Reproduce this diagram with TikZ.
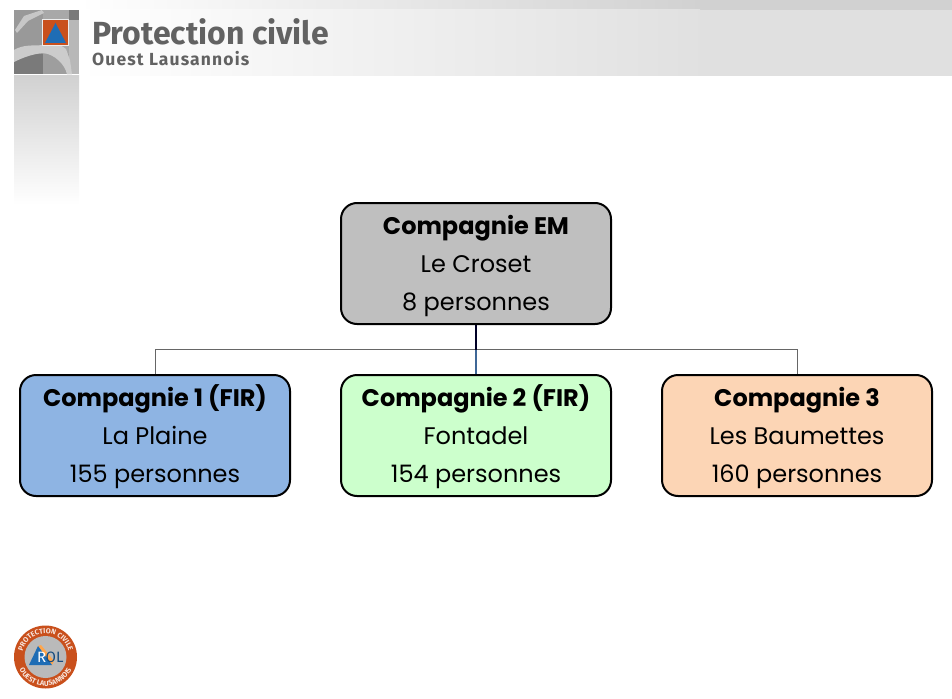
\documentclass[tikz,border=0pt]{standalone}
\usepackage{fontspec}
\setmainfont{Poppins}
\newfontfamily\headfont{Fira Sans}
\usetikzlibrary{calc,decorations.text}
\definecolor{emgray}{HTML}{BFBFBF}
\definecolor{firblue}{HTML}{8EB4E3}
\definecolor{firgreen}{HTML}{CCFFCC}
\definecolor{peach}{HTML}{FCD5B5}
\definecolor{rolorange}{HTML}{C9501C}
\definecolor{rolblue}{HTML}{1F6DB5}
\definecolor{headgray}{HTML}{626262}
\definecolor{linkblue}{HTML}{3F6797}
\newcommand{\comptext}[3]{\rule{0pt}{24pt}\textbf{#1}\\#2\\\rule[-5.4pt]{0pt}{5.4pt}#3}
\tikzset{
  compbox/.style={draw=black,line width=2pt,rounded corners=16pt,minimum width=270pt,minimum height=121pt,
    align=center,inner sep=0pt,font=\fontsize{24}{38}\selectfont},
  link/.style={draw=black!60,line width=1pt},
  ringtext/.style={decorate,decoration={text along path,text align=center,
    text={|\fontsize{7.2}{8}\headfont\bfseries\color{white!85!rolorange}|#1}}}
}
\begin{document}
\begin{tikzpicture}[x=1pt,y=-1pt]
     \useasboundingbox (0,0) rectangle (952,698);

     % header bands
     \shade[left color=white,right color=black!18] (79,0) rectangle (700,10);
     \fill[black!18] (699,0) rectangle (952,10);
     \shade[left color=white,right color=black!12] (79,10) rectangle (700,76);
     \fill[black!12] (699,10) rectangle (952,76);
     \shade[top color=black!18,bottom color=white] (14,76) rectangle (79,205);

     % map square
     \fill[black!40] (14,10) rectangle (43,54);
     \fill[black!34] (43,10) rectangle (79,54);
     \fill[black!52] (14,54) rectangle (43,74.5);
     \fill[black!38] (43,54) rectangle (79,74.5);
     \fill[black!52] (69,10) rectangle (79,20);
     \fill[black!28] (69,20) rectangle (79,74.5);
     \fill[black!20] (14,50) .. controls (24,44) and (34,46) .. (43,45)
        .. controls (52,42) and (60,44) .. (66,49) -- (70,60) -- (72,74.5) -- (67,74.5)
        .. controls (65,64) and (54,54) .. (43,53) .. controls (32,54) and (22,58) .. (14,62) -- cycle;
     \fill[black!22] (24,16) -- (42,10) -- (44,13) -- (28,21) -- (17,33) -- (15,30) -- cycle;
     \fill[white!85!black!50] (42,19) rectangle (69,46);
     \fill[rolorange] (43,20) rectangle (68,45);
     \fill[rolblue] (55.5,23) -- (66,43) -- (45,43) -- cycle;

     % header text
     \node[anchor=base west,inner sep=0pt,text=headgray] (title) at (92,45)
        {\fontsize{32}{36}\headfont\bfseries Protection civile};
     \node[anchor=base west,inner sep=0pt,text=headgray] (subtitle) at (92,66)
        {\fontsize{17.5}{20}\headfont\bfseries\addfontfeature{LetterSpace=6.5}Ouest Lausannois};

     % companies
     \node[compbox,fill=emgray] (em) at (476,263.5) {\comptext{Compagnie EM}{Le Croset}{8 personnes}};
     \node[compbox,fill=firblue] (comp1) at (155,435.5) {\comptext{Compagnie 1 (FIR)}{La Plaine}{155 personnes}};
     \node[compbox,fill=firgreen] (comp2) at (476,435.5) {\comptext{Compagnie 2 (FIR)}{Fontadel}{154 personnes}};
     \node[compbox,fill=peach] (comp3) at (797,435.5) {\comptext{Compagnie 3}{Les Baumettes}{160 personnes}};

     \coordinate (J) at (476,350);
     \coordinate (J1) at ($(comp1.north)+(0,-25)$);
     \coordinate (J3) at ($(comp3.north)+(0,-25)$);

     \draw[link] (comp1.north) -- (J1) -- (J3) -- (comp3.north);
     \draw[linkblue,line width=2.8pt,xshift=0.6pt] (J) -- (comp2.north);
     \draw[black!85!blue,line width=1.8pt,xshift=0.6pt] (em.south) -- (J);

     % badge
     \coordinate (B) at (45.5,657);
     \fill[rolorange] (B) circle (31.5);
     \fill[black!27] (B) circle (21);
     \fill[orange!70] (38,646) -- (41,645) -- (54,661) -- (52,665) -- cycle;
     \fill[rolblue] (38,646) -- (52,665) -- (29,665) -- cycle;
     \node[inner sep=0pt,text=white,anchor=base west] (rolr) at (37,662.5) {\fontsize{15}{15}\headfont R};
     \node[inner sep=0pt,text=rolblue!70!black,anchor=base west] (rolol) at (45.5,662.5) {\fontsize{15}{15}\headfont OL};
     \path[ringtext=PROTECTION CIVILE] ($(B)+(165:23.5)$) arc[start angle=165,end angle=375,radius=23.5];
     \path[ringtext=OUEST LAUSANNOIS] ($(B)+(165:29)$) arc[start angle=165,end angle=15,radius=29];
\end{tikzpicture}
\end{document}
